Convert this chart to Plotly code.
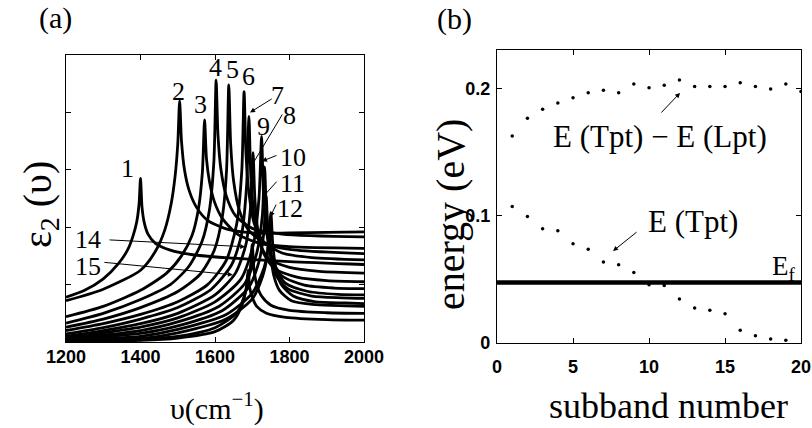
import plotly.graph_objects as go

# ---------------- Panel (a): epsilon_2 spectra ----------------
nu1 = [1200, 1250, 1300, 1340, 1365, 1380, 1390, 1396, 1400, 1404, 1410, 1420, 1440, 1480, 1540, 1650, 1800, 2000]
eps1 = [0.78, 0.90, 1.10, 1.36, 1.60, 1.85, 2.10, 2.40, 2.85, 2.35, 2.08, 1.88, 1.72, 1.60, 1.52, 1.46, 1.40, 1.35]
nu2 = [1200, 1300, 1400, 1440, 1465, 1482, 1493, 1500, 1505, 1510, 1518, 1530, 1550, 1580, 1630, 1700, 1800, 2000]
eps2 = [0.72, 0.92, 1.25, 1.58, 1.95, 2.40, 2.90, 3.45, 4.20, 3.50, 3.00, 2.65, 2.35, 2.12, 1.97, 1.90, 1.90, 1.92]
nu3 = [1200, 1300, 1400, 1470, 1510, 1538, 1555, 1566, 1572, 1577, 1585, 1598, 1620, 1660, 1720, 1800, 2000]
eps3 = [0.44, 0.62, 0.90, 1.20, 1.50, 1.85, 2.30, 2.95, 3.87, 3.20, 2.80, 2.45, 2.15, 1.88, 1.72, 1.66, 1.63]
nu4 = [1200, 1300, 1400, 1480, 1530, 1565, 1585, 1597, 1603, 1608, 1616, 1630, 1655, 1700, 1780, 2000]
eps4 = [0.33, 0.50, 0.74, 1.00, 1.32, 1.75, 2.30, 3.15, 4.56, 3.60, 3.00, 2.55, 2.20, 1.98, 1.88, 1.83]
nu5 = [1200, 1300, 1400, 1500, 1560, 1598, 1620, 1631, 1637, 1642, 1650, 1665, 1690, 1740, 1820, 2000]
eps5 = [0.26, 0.40, 0.60, 0.88, 1.18, 1.60, 2.20, 3.00, 4.48, 3.45, 2.80, 2.30, 1.95, 1.70, 1.60, 1.54]
nu6 = [1200, 1300, 1400, 1500, 1580, 1630, 1658, 1672, 1678, 1683, 1691, 1706, 1730, 1780, 1860, 2000]
eps6 = [0.20, 0.32, 0.48, 0.70, 1.00, 1.42, 2.05, 3.00, 4.36, 3.30, 2.60, 2.05, 1.75, 1.55, 1.47, 1.43]
nu7 = [1200, 1300, 1400, 1500, 1590, 1645, 1672, 1685, 1691, 1696, 1704, 1718, 1745, 1800, 1880, 2000]
eps7 = [0.14, 0.25, 0.40, 0.60, 0.92, 1.35, 1.90, 2.75, 3.93, 2.90, 2.25, 1.75, 1.45, 1.30, 1.23, 1.20]
nu8 = [1200, 1300, 1400, 1500, 1600, 1655, 1683, 1696, 1702, 1707, 1715, 1730, 1760, 1820, 1900, 2000]
eps8 = [0.10, 0.20, 0.32, 0.50, 0.82, 1.20, 1.70, 2.40, 3.30, 2.50, 1.95, 1.55, 1.28, 1.13, 1.07, 1.05]
nu9 = [1200, 1300, 1400, 1500, 1600, 1670, 1703, 1718, 1725, 1730, 1738, 1752, 1780, 1840, 1920, 2000]
eps9 = [0.07, 0.16, 0.26, 0.42, 0.70, 1.10, 1.70, 2.50, 3.58, 2.60, 1.95, 1.45, 1.15, 0.99, 0.94, 0.93]
nu10 = [1200, 1300, 1400, 1500, 1610, 1680, 1712, 1727, 1733, 1738, 1746, 1760, 1790, 1850, 1930, 2000]
eps10 = [0.05, 0.12, 0.20, 0.35, 0.62, 1.02, 1.55, 2.20, 3.05, 2.25, 1.70, 1.30, 1.02, 0.88, 0.83, 0.82]
nu11 = [1200, 1300, 1400, 1500, 1620, 1690, 1718, 1731, 1737, 1742, 1750, 1765, 1795, 1860, 1940, 2000]
eps11 = [0.03, 0.09, 0.15, 0.28, 0.55, 0.95, 1.40, 1.90, 2.55, 1.95, 1.50, 1.15, 0.93, 0.80, 0.77, 0.76]
nu12 = [1200, 1300, 1400, 1500, 1630, 1700, 1732, 1744, 1750, 1755, 1763, 1778, 1810, 1870, 1950, 2000]
eps12 = [0.02, 0.06, 0.10, 0.22, 0.48, 0.85, 1.30, 1.70, 2.25, 1.70, 1.30, 1.00, 0.80, 0.70, 0.68, 0.67]
nu13 = [1200, 1300, 1400, 1500, 1630, 1700, 1728, 1740, 1745, 1750, 1758, 1773, 1805, 1870, 1950, 2000]
eps13 = [0.01, 0.04, 0.06, 0.16, 0.40, 0.75, 1.15, 1.50, 2.00, 1.50, 1.15, 0.90, 0.72, 0.65, 0.63, 0.62]
nu14 = [1200, 1300, 1400, 1500, 1600, 1660, 1684, 1695, 1700, 1704, 1712, 1725, 1750, 1800, 1900, 2000]
eps14 = [0.00, 0.03, 0.05, 0.10, 0.25, 0.52, 0.92, 1.30, 1.70, 1.30, 1.00, 0.80, 0.64, 0.55, 0.51, 0.50]
nu15 = [1200, 1300, 1400, 1500, 1600, 1650, 1673, 1684, 1689, 1693, 1700, 1712, 1738, 1790, 1900, 2000]
eps15 = [0.00, 0.02, 0.03, 0.07, 0.18, 0.38, 0.65, 0.95, 1.25, 0.95, 0.78, 0.62, 0.50, 0.43, 0.39, 0.38]

a_xticks = [1200, 1400, 1600, 1800, 2000]
a_yticks = [1, 2, 3, 4]

# ---------------- Panel (b): subband energies ----------------
subband_upper = list(range(1, 21))
e_diff = [0.163, 0.177, 0.184, 0.189, 0.193, 0.197, 0.199, 0.197, 0.204, 0.201,
          0.203, 0.207, 0.202, 0.202, 0.202, 0.205, 0.202, 0.200, 0.204, 0.198]
subband_lower = list(range(1, 20))
e_tpt = [0.1075, 0.0996, 0.0899, 0.0883, 0.0781, 0.0739, 0.0637, 0.0616, 0.0556, 0.0459,
         0.0453, 0.0346, 0.0275, 0.0257, 0.0231, 0.0100, 0.0058, 0.0031, 0.0021]
e_fermi = 0.0477
b_xticks = [0, 5, 10, 15, 20]
b_yticks = [0, 0.1, 0.2]
b_yticktext = ["0", "0.1", "0.2"]

curves = [(nu1, eps1), (nu2, eps2), (nu3, eps3), (nu4, eps4), (nu5, eps5),
          (nu6, eps6), (nu7, eps7), (nu8, eps8), (nu9, eps9), (nu10, eps10),
          (nu11, eps11), (nu12, eps12), (nu13, eps13), (nu14, eps14), (nu15, eps15)]

fig = go.Figure()
for xs, ys in curves:
    fig.add_trace(go.Scatter(x=xs, y=ys, mode="lines", xaxis="x", yaxis="y",
                             line=dict(color="black", width=2.8, shape="spline", smoothing=0.7),
                             showlegend=False, hoverinfo="skip"))

fig.add_trace(go.Scatter(x=subband_upper, y=e_diff, mode="markers", xaxis="x2", yaxis="y2",
                         marker=dict(color="black", size=3.5), showlegend=False))
fig.add_trace(go.Scatter(x=subband_lower, y=e_tpt, mode="markers", xaxis="x2", yaxis="y2",
                         marker=dict(color="black", size=3.5), showlegend=False))
fig.add_trace(go.Scatter(x=[0, 20], y=[e_fermi, e_fermi], mode="lines", xaxis="x2", yaxis="y2",
                         line=dict(color="black", width=4.5), showlegend=False))

serif = "Liberation Serif"
tickfont = dict(family="Liberation Sans", size=18, color="black", weight="bold")
axis_common = dict(showline=True, linecolor="black", linewidth=1.2, mirror="ticks",
                   ticks="inside", ticklen=5, tickcolor="black", showgrid=False,
                   zeroline=False, tickfont=tickfont, automargin=False)

fig.update_layout(
    width=812, height=428, margin=dict(l=0, r=0, t=0, b=0, autoexpand=False),
    paper_bgcolor="white", plot_bgcolor="white", showlegend=False,
    xaxis=dict(domain=[0.0813, 0.4483], range=[1200, 2000], tickvals=a_xticks,
               anchor="y", ticklabelstandoff=-2, **axis_common),
    yaxis=dict(domain=[0.2009, 0.8715], range=[0, 5], tickvals=a_yticks,
               showticklabels=False, anchor="x", **axis_common),
    xaxis2=dict(domain=[0.6121, 0.9865], range=[0, 20], tickvals=b_xticks,
                anchor="y2", ticklabelstandoff=7, **axis_common),
    yaxis2=dict(domain=[0.1986, 0.8832], range=[0, 0.2307], tickvals=b_yticks,
                ticktext=b_yticktext, anchor="x2", ticklabelstandoff=2, **axis_common),
)

ann = []


def ptext(text, px, py, size, angle=0):
    ann.append(dict(text=text, x=px / 812, y=1 - py / 428, xref="paper", yref="paper",
                    showarrow=False, textangle=angle, xanchor="center", yanchor="middle",
                    font=dict(family=serif, size=size, color="black")))


ptext("(a)", 55, 18, 30)
ptext("(b)", 455, 19, 30)
ptext("υ(cm<sup>−1</sup>)", 217, 406, 30)
ptext("ε<sub>2</sub> (υ)", 40, 205, 40, -90)
ptext("energy (eV)", 450, 215, 40, -90)
ptext("subband number", 668, 406, 36)

# panel (a) subband labels
a_labels = [("1", 1366, 3.03), ("2", 1501, 4.36), ("3", 1560, 4.13), ("4", 1600, 4.79),
            ("5", 1646, 4.74), ("6", 1689, 4.62), ("7", 1769, 4.30), ("8", 1801, 3.95),
            ("9", 1729, 3.75), ("10", 1809, 3.22), ("11", 1807, 2.77), ("12", 1801, 2.33),
            ("14", 1259, 1.78), ("15", 1259, 1.31)]
for t, x, y in a_labels:
    ann.append(dict(text=t, x=x, y=y, xref="x", yref="y", showarrow=False,
                    font=dict(family=serif, size=26, color="black")))

# pointers in panel (a): (head_x, head_y, tail_x, tail_y, arrowhead)
a_ptrs = [(1694, 4.00, 1756, 4.25, 2), (1699, 3.08, 1783, 3.99, 0),
          (1726, 3.15, 1769, 3.26, 2), (1729, 2.53, 1769, 2.82, 0),
          (1748, 2.18, 1766, 2.42, 2), (1681, 1.66, 1313, 1.78, 2),
          (1648, 1.17, 1299, 1.39, 2)]
for hx, hy, tx, ty, head in a_ptrs:
    ann.append(dict(text="", x=hx, y=hy, ax=tx, ay=ty, xref="x", yref="y", axref="x", ayref="y",
                    showarrow=True, arrowhead=head, arrowsize=1, arrowwidth=1, arrowcolor="black",
                    standoff=0, startstandoff=0))

# panel (b) labels
ann.append(dict(text="E (Tpt) − E (Lpt)", x=10.72, y=0.1622, xref="x2", yref="y2", showarrow=False,
                font=dict(family=serif, size=31, color="black")))
ann.append(dict(text="E (Tpt)", x=12.9, y=0.0953, xref="x2", yref="y2", showarrow=False,
                font=dict(family=serif, size=31, color="black")))
ann.append(dict(text="E<sub>f</sub>", x=18.9, y=0.059, xref="x2", yref="y2", showarrow=False,
                font=dict(family=serif, size=27, color="black")))
b_ptrs = [(12.04, 0.1969, 10.72, 0.1803), (7.63, 0.0724, 9.28, 0.0882)]
for hx, hy, tx, ty in b_ptrs:
    ann.append(dict(text="", x=hx, y=hy, ax=tx, ay=ty, xref="x2", yref="y2", axref="x2", ayref="y2",
                    showarrow=True, arrowhead=2, arrowsize=1, arrowwidth=1, arrowcolor="black",
                    standoff=0, startstandoff=0))

fig.update_layout(annotations=ann)
fig.write_html("out.html")
